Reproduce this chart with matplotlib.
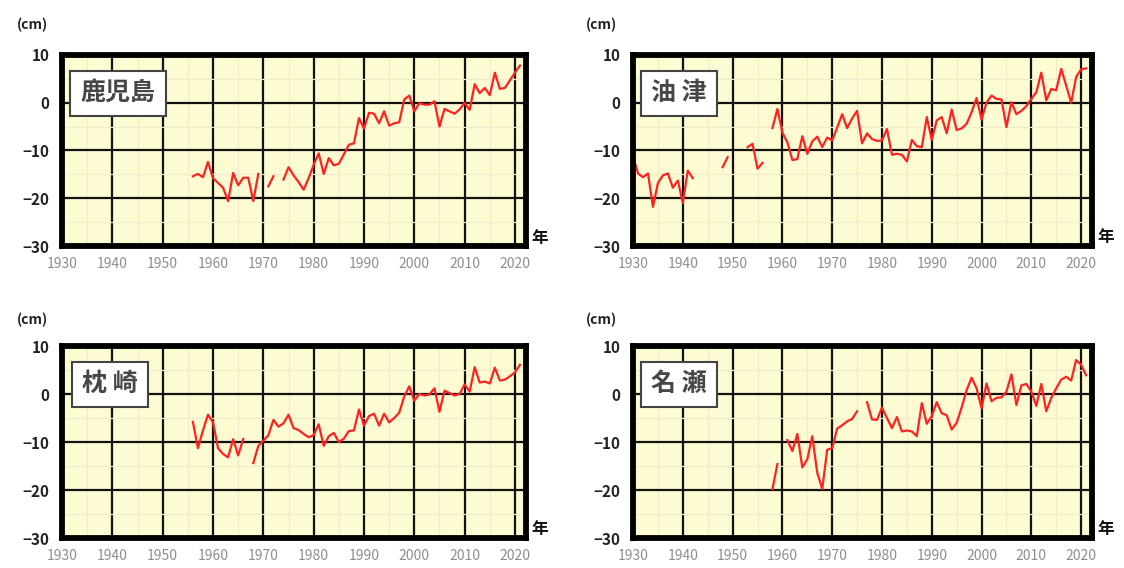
import numpy as np
import matplotlib.pyplot as plt
from matplotlib.ticker import MultipleLocator

plt.rcParams['font.family'] = ['Noto Sans CJK JP', 'DejaVu Sans']

nan = np.nan

# annual mean sea level anomaly (cm), one list per station
kagoshima_years = np.arange(1956, 2022)
kagoshima = [
    -15.4, -14.9, -15.6, -12.4,
    -15.8, -16.8, -17.8, -20.6, -14.7, -17.3, -15.7, -15.7, -20.6, -14.9,
    nan, -17.5, -15.4, nan, -16.1, -13.5, -15.2, -16.6, -18.2, -15.8,
    -13.0, -10.6, -14.9, -11.6, -13.1, -12.8, -10.8, -8.8, -8.5, -3.2,
    -5.4, -2.1, -2.3, -4.3, -1.8, -4.8, -4.3, -4.1, 0.7, 1.5,
    -1.8, -0.1, -0.4, -0.4, 0.3, -5.0, -1.3, -1.8, -2.3, -1.4,
    0.0, -1.5, 3.9, 2.0, 3.1, 1.6, 6.3, 2.9, 3.1, 4.7,
    6.3, 7.8,
]

aburatsu_years = np.arange(1930, 2022)
aburatsu = [
    -11.2, -14.8, -15.6, -14.8, -21.8, -16.8, -15.2, -14.8, -17.8, -16.3,
    -21.0, -14.2, -15.8, nan, nan, nan, nan, nan, -13.5, -11.4,
    nan, nan, nan, -9.3, -8.6, -13.8, -12.6, nan, -5.3, -1.3,
    -6.3, -8.3, -12.0, -11.8, -7.0, -10.7, -8.1, -7.1, -9.3, -7.3,
    -7.9, -5.2, -2.4, -5.3, -3.3, -1.7, -8.5, -6.4, -7.6, -8.0,
    -7.9, -5.5, -10.9, -10.7, -10.9, -12.3, -7.8, -9.1, -9.3, -3.0,
    -7.8, -3.7, -3.0, -6.4, -1.4, -5.7, -5.4, -4.4, -2.0, 1.0,
    -3.5, 0.0, 1.5, 0.8, 0.7, -5.1, 0.1, -2.4, -1.7, -0.7,
    0.8, 2.2, 6.3, 0.5, 2.9, 2.6, 7.1, 3.6, 0.0, 5.4,
    7.0, 7.2,
]

makurazaki_years = np.arange(1956, 2022)
makurazaki = [
    -5.8, -11.3, -7.6, -4.3,
    -5.9, -11.3, -12.5, -13.2, -9.4, -12.8, -9.4, nan, -14.4, -10.8,
    -9.7, -8.6, -5.4, -6.8, -6.1, -4.3, -7.1, -7.5, -8.3, -9.0,
    -8.6, -6.3, -10.8, -8.8, -8.1, -10.0, -9.3, -7.7, -7.6, -3.2,
    -6.6, -4.6, -4.1, -6.6, -4.1, -5.9, -5.0, -3.9, -0.5, 1.6,
    -1.4, 0.0, -0.3, -0.1, 1.2, -3.7, 0.7, 0.2, -0.3, 0.0,
    2.0, 0.5, 5.6, 2.4, 2.6, 2.2, 5.5, 2.8, 3.0, 3.7,
    4.5, 6.1,
]

naze_years = np.arange(1958, 2022)
naze = [
    -19.8, -14.6,
    nan, -9.6, -11.9, -8.3, -15.3, -13.6, -8.8, -16.4, -19.8, -11.6,
    -11.3, -7.2, -6.5, -5.7, -5.2, -3.6, nan, -1.7, -5.3, -5.4,
    -2.8, -5.0, -7.1, -4.8, -7.8, -7.6, -7.8, -8.8, -1.9, -6.2,
    -4.6, -1.7, -4.0, -4.4, -7.4, -6.0, -2.8, 0.8, 3.4, 1.2,
    -3.0, 2.2, -1.5, -0.8, -0.7, 0.5, 4.1, -2.3, 1.8, 2.1,
    0.5, -2.5, 2.1, -3.6, -0.8, 1.2, 3.0, 3.6, 2.8, 7.1,
    6.1, 3.9,
]

stations = ["鹿児島", "油 津", "枕 崎", "名 瀬"]
series = [(kagoshima_years, kagoshima), (aburatsu_years, aburatsu),
          (makurazaki_years, makurazaki), (naze_years, naze)]

# axes rectangles in figure fractions
rects = [
    (0.0552, 0.5669, 0.4128, 0.3363),
    (0.5632, 0.5669, 0.4084, 0.3363),
    (0.0552, 0.0528, 0.4128, 0.3380),
    (0.5632, 0.0528, 0.4084, 0.3380),
]
label_x = [0.12, 0.10, 0.103, 0.10]
cm_pos = [(0.029, 0.956), (0.535, 0.956), (0.029, 0.437), (0.535, 0.437)]
nen_pos = [(0.480, 0.581), (0.984, 0.583), (0.480, 0.069), (0.984, 0.069)]

fig = plt.figure(figsize=(11.24, 5.68), dpi=100)

for i, (name, (yrs, vals)) in enumerate(zip(stations, series)):
    ax = fig.add_axes(rects[i])
    ax.set_facecolor('#FDFBD2')
    ax.set_xlim(1930, 2022.2)
    ax.set_ylim(-30, 10)

    ax.xaxis.set_major_locator(MultipleLocator(10))
    ax.yaxis.set_major_locator(MultipleLocator(10))
    ax.xaxis.set_minor_locator(MultipleLocator(5))
    ax.yaxis.set_minor_locator(MultipleLocator(5))
    ax.grid(which='minor', color='#EFECCB', linewidth=0.9)
    ax.grid(which='major', color='#111111', linewidth=1.6)
    ax.set_axisbelow(True)

    ax.plot(yrs, np.array(vals, dtype=float), color='#FF2222', linewidth=1.6,
            zorder=3)

    for sp in ax.spines.values():
        sp.set_linewidth(4.2)
        sp.set_color('black')
        sp.set_zorder(4)

    ax.tick_params(which='both', length=0)
    ax.tick_params('x', labelsize=10, labelcolor='#8E8E8E', pad=8)
    ax.tick_params('y', labelsize=11, labelcolor='#222222', pad=9)
    for lab in ax.get_yticklabels():
        lab.set_fontweight('bold')

    ax.text(label_x[i], 0.80, name, transform=ax.transAxes,
            fontsize=18, fontweight='bold', color='#474747',
            ha='center', va='center', zorder=5,
            bbox=dict(boxstyle='square,pad=0.42', facecolor='white',
                      edgecolor='#444444', linewidth=1.5))

    fig.text(*cm_pos[i], "(cm)", fontsize=10, fontweight='bold',
             color='#222222', ha='center', va='center')
    fig.text(*nen_pos[i], "年", fontsize=12, fontweight='bold',
             color='#111111', ha='center', va='center')

fig.savefig("out.png", dpi=100, facecolor='white')
